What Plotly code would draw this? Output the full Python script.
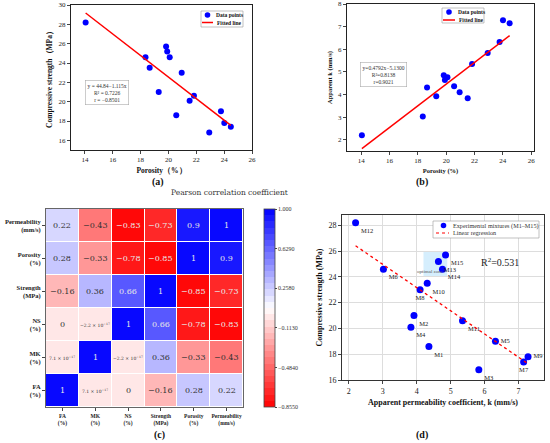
import numpy as np
import plotly.graph_objects as go

# mixtures M1..M15
mixes = ["M%d" % i for i in range(1, 16)]
porosity = [20.56, 19.3, 22.93, 21.52, 23.77, 18.35, 24.48, 20.95, 24.01, 18.65, 21.83, 14.05, 19.91, 20.09, 19.83]
strength = [18.6, 21.0, 16.8, 20.1, 19.0, 24.6, 17.4, 23.0, 17.8, 23.5, 20.6, 28.2, 25.2, 24.6, 25.7]
perm_k = [4.36, 3.92, 5.83, 3.83, 6.32, 3.02, 7.15, 4.1, 7.28, 4.31, 5.35, 2.2, 4.64, 4.76, 4.85]

# fitted lines reported in the panels
fit_a = (44.84, -1.115)   # intercept, slope
fit_b = (-5.1300, 0.4792)

# correlation matrix (order FA, MK, NS, Strength, Porosity, Permeability)
var_names = ["FA", "MK", "NS", "Strength", "Porosity", "Permeability"]
var_units = ["(%)", "(%)", "(%)", "(MPa)", "(%)", "(mm/s)"]
corr = [
    [1, 7.1e-17, 0, -0.16, 0.28, 0.22],
    [7.1e-17, 1, -2.2e-17, 0.36, -0.33, -0.43],
    [0, -2.2e-17, 1, 0.66, -0.78, -0.83],
    [-0.16, 0.36, 0.66, 1, -0.85, -0.73],
    [0.28, -0.33, -0.78, -0.85, 1, 0.9],
    [0.22, -0.43, -0.83, -0.73, 0.9, 1],
]
cbar_ticks = [1.0, 0.629, 0.258, -0.113, -0.484, -0.855]
cbar_text = ["1.000", "0.6290", "0.2580", "\u22120.1130", "\u22120.4840", "\u22120.8550"]
zmin, zmax = -0.855, 1.0

SERIF = "Liberation Serif, Times New Roman, serif"
DJV = "DejaVu Serif, serif"
W, H = 550, 443


def px(x):
    return x / W


def py(y):
    return 1 - y / H


def bwr_r(t):
    if t < 0.5:
        v = int(round(255 * 2 * t))
        return "rgb(255,%d,%d)" % (v, v)
    v = int(round(255 * 2 * (1 - t)))
    return "rgb(%d,%d,255)" % (v, v)


# banded colour scale
nb = 32
cscale = []
for i in range(nb):
    c = bwr_r((i + 0.5) / nb)
    cscale.append([i / nb, c])
    cscale.append([(i + 1) / nb, c])


def fmt(v):
    if v != 0 and abs(v) < 1e-6:
        e = int(np.floor(np.log10(abs(v))))
        m = v / 10 ** e
        s = "%.1f \u00d7 10<sup>\u2212%d</sup>" % (abs(m), -e)
        return ("\u2212" if v < 0 else "") + s
    s = "%.2g" % v
    return s.replace("-", "\u2212")


fig = go.Figure()

# ---- (a) porosity vs strength
xa = np.array([min(porosity), max(porosity)])
fig.add_trace(go.Scatter(x=porosity, y=strength, mode="markers", name="Data points",
                         marker=dict(color="blue", size=6), xaxis="x", yaxis="y"))
fig.add_trace(go.Scatter(x=xa, y=fit_a[0] + fit_a[1] * xa, mode="lines", name="Fitted line",
                         line=dict(color="red", width=1.5), xaxis="x", yaxis="y"))

# ---- (b) porosity vs k
fig.add_trace(go.Scatter(x=porosity, y=perm_k, mode="markers", name="Data points",
                         marker=dict(color="blue", size=6), xaxis="x2", yaxis="y2"))
fig.add_trace(go.Scatter(x=xa, y=fit_b[0] + fit_b[1] * xa, mode="lines", name="Fitted line",
                         line=dict(color="red", width=1.5), xaxis="x2", yaxis="y2"))

# ---- (c) heatmap
fig.add_trace(go.Heatmap(z=corr, x=var_names, y=var_names, zmin=zmin, zmax=zmax,
                         colorscale=cscale, xgap=1, ygap=1, xaxis="x3", yaxis="y3",
                         showscale=True, hoverinfo="skip",
                         colorbar=dict(x=px(264), xanchor="left", y=py(407), yanchor="bottom",
                                       len=198 / H, lenmode="fraction", thickness=11, xpad=0, ypad=0,
                                       outlinecolor="#444", outlinewidth=0.8,
                                       tickvals=cbar_ticks, ticktext=cbar_text, ticks="outside",
                                       ticklen=2, tickfont=dict(family=SERIF, size=6, color="#333"))))

# ---- (d) k vs strength
kfit = np.polyfit(perm_k, strength, 1)
xd = np.array([min(perm_k), max(perm_k)])
text_pos = ["bottom right"] * 15
text_pos[4] = "middle right"
text_pos[8] = "middle right"
text_pos[6] = "bottom center"
text_pos[7] = "bottom center"
fig.add_trace(go.Scatter(x=perm_k, y=strength, mode="markers+text", text=mixes,
                         textposition=text_pos, name="Experimental mixtures (M1\u2013M15)",
                         textfont=dict(family=SERIF, size=6.5, color="#222"),
                         marker=dict(color="blue", size=7), xaxis="x4", yaxis="y4"))
fig.add_trace(go.Scatter(x=xd, y=np.polyval(kfit, xd), mode="lines", name="Linear regression",
                         line=dict(color="red", width=1.3, dash="dot"),
                         xaxis="x4", yaxis="y4"))

ax_common = dict(showline=True, mirror=True, linecolor="#222", linewidth=1, ticks="outside",
                 ticklen=3, tickfont=dict(family=SERIF, size=7, color="#222"), showgrid=False,
                 zeroline=False, automargin=False)
title_font = dict(family=SERIF, size=7.5, color="#111")
hm_labels = ["<b>%s<br>%s</b>" % (n, u) for n, u in zip(var_names, var_units)]
hm_axis = dict(showline=True, mirror=True, linecolor="#666", ticks="outside", ticklen=3,
               tickcolor="#444", showgrid=False, zeroline=False, automargin=False,
               tickvals=var_names, ticktext=hm_labels)

fig.update_layout(
    width=W, height=H, margin=dict(l=0, r=0, t=0, b=0),
    paper_bgcolor="white", plot_bgcolor="white", showlegend=False,
    xaxis=dict(ax_common, domain=[px(71), px(252)], range=[13, 26], tick0=14, dtick=2,
               anchor="y", title=dict(text="<b>Porosity\uff08%\uff09</b>", font=title_font, standoff=4)),
    yaxis=dict(ax_common, domain=[py(150), py(5)], range=[15, 30], tick0=16, dtick=2,
               anchor="x", title=dict(text="<b>Compressive strength\uff08MPa\uff09</b>", font=title_font, standoff=4)),
    xaxis2=dict(ax_common, domain=[px(347), px(534)], range=[13, 26.2], tick0=14, dtick=2,
                anchor="y2", title=dict(text="<b>Porosity (%)</b>", font=dict(title_font, size=6.5), standoff=4)),
    yaxis2=dict(ax_common, domain=[py(151), py(4)], range=[1.5, 8], tick0=2, dtick=1,
                anchor="x2", title=dict(text="<b>Apparent k (mm/s)</b>", font=dict(title_font, size=6.5), standoff=4)),
    xaxis3=dict(hm_axis, domain=[px(46), px(243)], anchor="y3", tickangle=0,
                tickfont=dict(family=SERIF, size=5.5, color="#222")),
    yaxis3=dict(hm_axis, domain=[py(407), py(209)], anchor="x3",
                tickfont=dict(family=SERIF, size=6.5, color="#222")),
    xaxis4=dict(ax_common, domain=[px(342), px(544)], range=[1.8, 7.75], dtick=1, anchor="y4",
                showgrid=True, gridcolor="#dddddd", gridwidth=0.8, linecolor="#333",
                tickfont=dict(family=SERIF, size=8, color="#222"),
                title=dict(text="<b>Apparent permeability coefficient, k (mm/s)</b>", font=dict(title_font, size=8), standoff=4)),
    yaxis4=dict(ax_common, domain=[py(380), py(215)], range=[16, 28.8], dtick=2, anchor="x4",
                showgrid=True, gridcolor="#dddddd", gridwidth=0.8, linecolor="#333",
                tickfont=dict(family=SERIF, size=8, color="#222"),
                title=dict(text="<b>Compressive strength (MPa)</b>", font=dict(title_font, size=8), standoff=4)),
)


# compact hand-drawn legends (plotly's own legend rows are too tall at this size)
def legend_box(x0, y0, x1, y1, entries, size, color):
    fig.add_shape(type="rect", xref="paper", yref="paper", x0=px(x0), x1=px(x1), y0=py(y1), y1=py(y0),
                  line=dict(color="#999", width=0.6), fillcolor="white", layer="above")
    for kind, sx0, sx1, sy, label, tx in entries:
        if kind == "marker":
            r = 2.8
            cx = (sx0 + sx1) / 2
            fig.add_shape(type="circle", xref="paper", yref="paper", x0=px(cx - r), x1=px(cx + r),
                          y0=py(sy + r), y1=py(sy - r), fillcolor="blue", line=dict(width=0), layer="above")
        else:
            fig.add_shape(type="line", xref="paper", yref="paper", x0=px(sx0), x1=px(sx1), y0=py(sy), y1=py(sy),
                          line=dict(color="red", width=1.5 if kind == "line" else 1.2,
                                    dash="solid" if kind == "line" else "dot"), layer="above")
        fig.add_annotation(x=px(tx), y=py(sy), xref="paper", yref="paper", xanchor="left", yanchor="middle",
                           text=label, showarrow=False, font=dict(family=SERIF, size=size, color=color))


legend_box(201, 11, 243, 27, [("marker", 204, 211, 15, "<b>Data points</b>", 214),
                              ("line", 202, 213, 22.5, "<b>Fitted line</b>", 215)], 5.5, "#111")
legend_box(442, 8, 484, 23, [("marker", 446, 452, 12, "<b>Data points</b>", 456),
                             ("line", 443, 455, 20, "<b>Fitted line</b>", 457)], 5.5, "#111")
legend_box(433, 221, 539, 238, [("marker", 440, 447, 225.5, "Experimental mixtures (M1\u2013M15)", 451),
                                ("dot", 436, 449, 233, "Linear regression", 451)], 6.2, "#333")

# optimal zone box in (d)
fig.add_shape(type="rect", xref="x4", yref="y4", x0=4.2, x1=4.9, y0=24, y1=26,
              fillcolor="rgba(135,206,250,0.35)", line=dict(width=0), layer="below")
fig.add_annotation(x=4.42, y=24.4, xref="x4", yref="y4", text="optimal zone", showarrow=False,
                   font=dict(family=SERIF, size=5, color="#555"))
fig.add_annotation(x=6.45, y=25.15, xref="x4", yref="y4", text="R<sup>2</sup>=0.531", showarrow=False,
                   font=dict(family=SERIF, size=10, color="#222"))

# fit boxes
fig.add_annotation(x=15.6, y=20.9, xref="x", yref="y", showarrow=False, align="center",
                   text="y = 44.84\u22121.115x<br>R\u00b2 = 0.7226<br>r = \u22120.8501",
                   font=dict(family=SERIF, size=5.5, color="#333"), bordercolor="#aaa", borderwidth=0.6,
                   borderpad=2, bgcolor="white")
fig.add_annotation(x=15.6, y=4.87, xref="x2", yref="y2", showarrow=False, align="center",
                   text="y=0.4792x\u22125.1300<br>R\u00b2=0.8138<br>r=0.9021",
                   font=dict(family=SERIF, size=5.5, color="#333"), bordercolor="#aaa", borderwidth=0.6,
                   borderpad=2, bgcolor="white")

# heatmap cell labels
for i, row in enumerate(corr):
    for j, v in enumerate(row):
        t = (v - zmin) / (zmax - zmin)
        small = v != 0 and abs(v) < 1e-6
        fig.add_annotation(x=var_names[j], y=var_names[i], xref="x3", yref="y3", showarrow=False,
                           text=fmt(v),
                           font=dict(family=DJV, size=4.5 if small else 8,
                                     color="#e8e8e8" if abs(t - 0.5) > 0.3 else "#333"))

# titles and panel labels
fig.add_annotation(x=px(230), y=py(192.5), xref="paper", yref="paper", showarrow=False,
                   text="Pearson correlation coefficient", font=dict(family=DJV, size=7.5, color="#333"))
for lbl, lx, ly in [("(a)", 150, 182), ("(b)", 430, 182)]:
    fig.add_annotation(x=px(lx), y=py(ly), xref="paper", yref="paper", showarrow=False,
                       text="<b>%s</b>" % lbl, font=dict(family=SERIF, size=10, color="#111"))
for lbl, lx in [("(c)", 152), ("(d)", 430)]:
    fig.add_annotation(x=px(lx), y=0, xref="paper", yref="paper", yanchor="bottom", showarrow=False,
                       text="<b>%s</b>" % lbl, font=dict(family=SERIF, size=10, color="#111"))

# the page body gets no default 8px margin, so the figure sits at the window corner
fig.write_html("out.html", config={"displayModeBar": False},
               post_script="document.body.style.margin='0px';")
